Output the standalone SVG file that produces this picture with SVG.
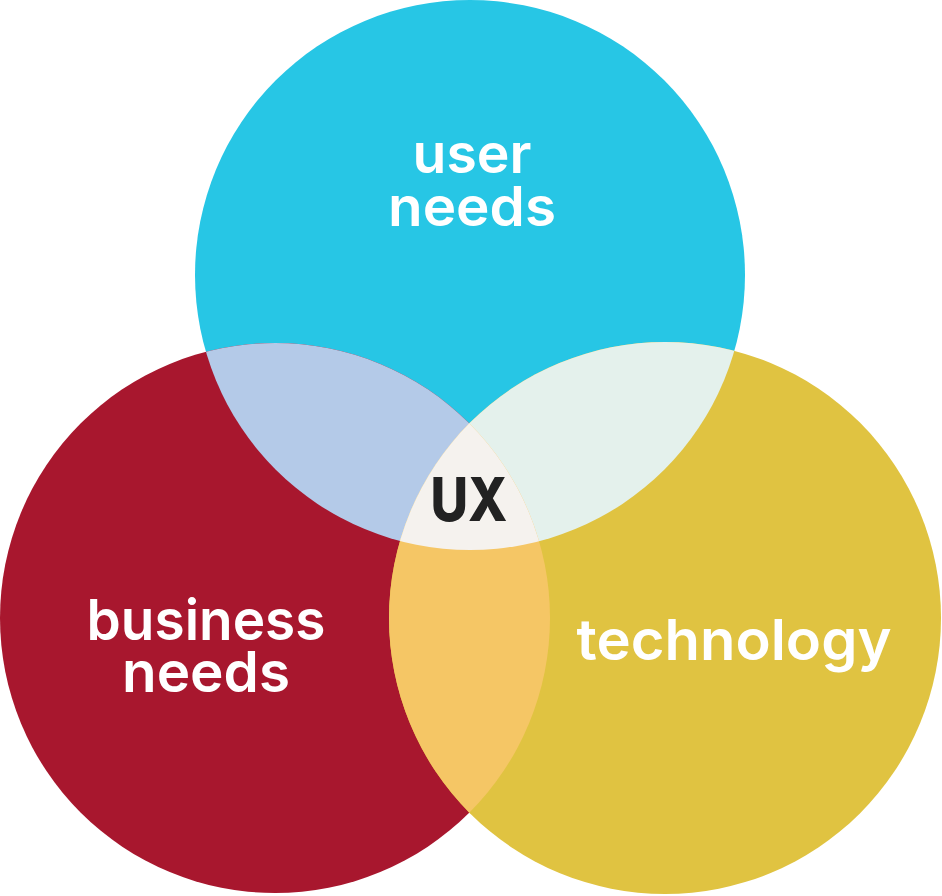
<svg xmlns="http://www.w3.org/2000/svg" width="942" height="896" viewBox="0 0 942 896">
<style>
.lbl{font-family:Inter,"Liberation Sans",sans-serif;font-weight:600;fill:#ffffff;text-anchor:middle}
.ux{font-family:Inter,"Liberation Sans",sans-serif;font-weight:800;fill:#222222;text-anchor:middle}
</style>
<defs>
<clipPath id="cTop"><circle cx="470" cy="275" r="275"/></clipPath>
<clipPath id="cRed"><circle cx="275" cy="618" r="275"/></clipPath>
<clipPath id="cYel"><circle cx="665" cy="618" r="276"/></clipPath>
</defs>
<rect width="942" height="896" fill="#ffffff"/>
<g id="user-needs">
<circle cx="470" cy="275" r="275" fill="#27C6E5"/>
<text class="lbl" font-size="55" x="472" y="173" textLength="119" lengthAdjust="spacingAndGlyphs">user</text>
<text class="lbl" font-size="55" x="472" y="226" textLength="168" lengthAdjust="spacingAndGlyphs">needs</text>
</g>
<g id="business-needs">
<circle cx="275" cy="618" r="275" fill="#A8172E"/>
</g>
<g id="technology">
<circle cx="665" cy="618" r="276" fill="#E0C341"/>
</g>
<g id="overlaps">
<circle cx="275" cy="618" r="275" fill="#B4CAE8" clip-path="url(#cTop)"/>
<circle cx="665" cy="618" r="276" fill="#E4F1EC" clip-path="url(#cTop)"/>
<circle cx="665" cy="618" r="276" fill="#F5C665" clip-path="url(#cRed)"/>
<g clip-path="url(#cTop)"><circle cx="665" cy="618" r="276" fill="#F5F2EE" clip-path="url(#cRed)"/></g>
</g>
<g id="labels">
<text class="lbl" font-size="57" x="206" y="640" textLength="239" lengthAdjust="spacingAndGlyphs">business</text>
<text class="lbl" font-size="57" x="206" y="692" textLength="168" lengthAdjust="spacingAndGlyphs">needs</text>
<text class="lbl" font-size="57" x="734" y="660" textLength="315" lengthAdjust="spacingAndGlyphs">technology</text>
</g>
<g id="ux">
<text class="ux" font-size="60" x="469" y="521" textLength="77" lengthAdjust="spacingAndGlyphs">UX</text>
</g>
<g id="connectors"/>
</svg>
